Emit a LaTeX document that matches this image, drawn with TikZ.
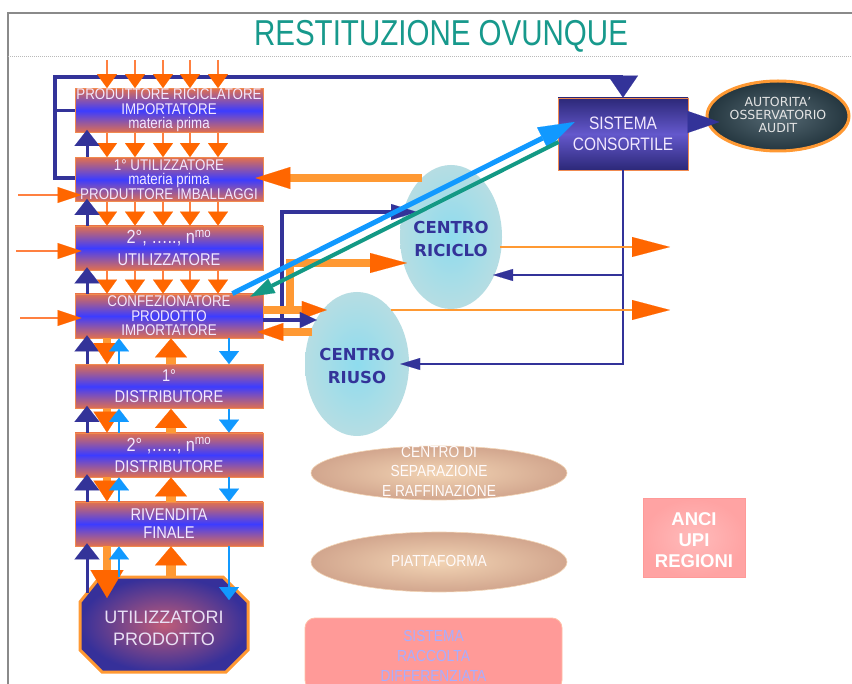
\documentclass[tikz,border=0pt]{standalone}
\usepackage{fontspec}
\setmainfont{Liberation Sans}
\newfontfamily\cnd[FakeStretch=0.86]{Liberation Sans}
\newfontfamily\ttlf[FakeStretch=0.82]{Liberation Sans}
\newfontfamily\dvs{DejaVu Sans}
\usetikzlibrary{arrows.meta,shapes.geometric,calc}

\definecolor{obox}{HTML}{E2704E}
\definecolor{oedge}{HTML}{F08A50}
\definecolor{bbox}{HTML}{3C3CFF}
\definecolor{btxt}{HTML}{F2E8FF}
\definecolor{ohead}{HTML}{FF6600}
\definecolor{oshaft}{HTML}{FF9933}
\definecolor{othin}{HTML}{FF8040}
\definecolor{navy}{HTML}{333399}
\definecolor{lblue}{HTML}{1199FF}
\definecolor{tealA}{HTML}{139985}
\definecolor{titlec}{HTML}{17998C}
\definecolor{cyanE}{HTML}{B6DDE3}
\definecolor{cyanC}{HTML}{8EDCEE}
\definecolor{peachE}{HTML}{D2A68E}
\definecolor{peachC}{HTML}{F2D4B4}
\definecolor{scD}{HTML}{2C2878}
\definecolor{scM}{HTML}{6458CC}
\definecolor{slateE}{HTML}{24363F}
\definecolor{slateC}{HTML}{566A74}
\definecolor{octC}{HTML}{C05C78}
\definecolor{octE}{HTML}{36309A}
\definecolor{pinkA}{HTML}{FFA3A3}
\definecolor{pinkC}{HTML}{FFBBBB}
\definecolor{pinkR}{HTML}{FF9A98}
\definecolor{lilac}{HTML}{A8AEFF}
\definecolor{framec}{HTML}{8A8A8A}

\begin{document}
\begin{tikzpicture}[x=1pt,y=-1pt,
  stagebox/.style={draw=oedge, line width=0.8pt, minimum width=188pt, minimum height=44pt, inner sep=0pt,
    top color=obox, bottom color=obox, middle color=bbox, text=btxt, align=center,
    font=\cnd\fontsize{15.5}{14.5}\selectfont},
  centro/.style={ellipse, inner color=cyanC, outer color=cyanE, minimum width=102pt, minimum height=144pt, inner sep=0pt},
  centrotxt/.style={text=navy, font=\dvs\bfseries\fontsize{16.5}{23}\selectfont, align=center},
  peach/.style={ellipse, draw=peachC, line width=0.6pt, inner color=peachC, outer color=peachE, minimum width=256pt, inner sep=0pt},
  peachtxt/.style={text=white!94!pink, font=\cnd\fontsize{16}{19.5}\selectfont, align=center},
  sarr/.style={draw=othin, line width=2pt, -{Triangle[width=20pt,length=14pt,color=ohead,fill=ohead,line width=0.1pt]}},
  navyup/.style={draw=navy, line width=3pt, -{Triangle[width=25pt,length=16pt,color=navy,fill=navy,line width=0.1pt]}, shorten >=-3pt},
  odown/.style={draw=oshaft, line width=8pt, -{Triangle[width=27pt,length=21pt,color=ohead,fill=ohead,line width=0.1pt]}},
  oup/.style={draw=oshaft, line width=10pt, -{Triangle[width=32pt,length=19pt,color=ohead,fill=ohead,line width=0.1pt]}},
  bthin/.style={draw=lblue, line width=2.2pt, -{Triangle[width=20pt,length=13pt,color=lblue,fill=lblue,line width=0.1pt]}},
  larr/.style={draw=othin, line width=2.5pt, -{Triangle[width=16pt,length=24pt,color=ohead,fill=ohead,line width=0.1pt]}, shorten >=-7pt},
  navyline/.style={draw=navy, line width=3.5pt},
  othick/.style={draw=oshaft, line width=7.5pt},
  ohd/.style args={#1/#2}{-{Triangle[width=#1pt,length=#2pt,color=ohead,fill=ohead,line width=0.1pt]}},
  navymed/.style={draw=navy, line width=4pt, -{Triangle[width=16pt,length=26pt,color=navy,fill=navy,line width=0.1pt]}},
  navythin/.style={draw=navy, line width=2.5pt, -{Triangle[width=12pt,length=20pt,color=navy,fill=navy,line width=0.1pt]}},
  othinlong/.style={draw=oshaft, line width=2.5pt, -{Triangle[width=20pt,length=38pt,color=ohead,fill=ohead,line width=0.1pt]}},
  lbarrow/.style={draw=lblue, line width=5pt, -{Triangle[width=24pt,length=36pt,color=lblue,fill=lblue,line width=0.1pt]}},
  tealarr/.style={draw=tealA, line width=4pt, -{Triangle[width=16pt,length=24pt,color=tealA,fill=tealA,line width=0.1pt]}}
]
\useasboundingbox (0,0) rectangle (852,684);
\fill[white] (0,0) rectangle (852,684);

% frame and title
\draw[framec, line width=1.3pt] (8,684) -- (8,13) -- (852,13);
\draw[framec!60, line width=1pt, densely dotted] (8,57) -- (852,57);
\node[text=titlec, font=\ttlf\fontsize{36}{36}\selectfont] (title) at (441,36) {RESTITUZIONE OVUNQUE};

% centres
\node[centro] (ric) at (451,237) {};
\node[centro, minimum width=104pt] (riu) at (357,364) {};
\node[centrotxt] (ricT) at (451,239) {CENTRO\\RICICLO};
\node[centrotxt] (riuT) at (357,366) {CENTRO\\RIUSO};

\node[peach, minimum height=54pt] (sep) at (439,473) {};
\node[peachtxt] (sepT) at (439,471) {CENTRO DI\\SEPARAZIONE\\E RAFFINAZIONE};
\node[peach, minimum height=60pt] (pia) at (439,562) {};
\node[peachtxt] (piaT) at (439,561) {PIATTAFORMA};
\node[draw=pinkR!70!orange!60, line width=0.8pt, rounded corners=10pt, fill=pinkR, minimum width=257pt, minimum height=72pt] (src) at (433.5,654) {};
\node[text=lilac, font=\cnd\fontsize{16}{20}\selectfont, align=center] (srcT) at (433.5,656) {SISTEMA\\RACCOLTA\\DIFFERENZIATA};

\node[draw=pinkR, line width=1pt, inner color=pinkC, outer color=pinkA, minimum width=102pt, minimum height=78pt] (anci) at (694,538) {};
\node[text=white, font=\bfseries\fontsize{18.5}{21}\selectfont, align=center] (anciT) at (694,540) {ANCI\\UPI\\REGIONI};

% chain boxes
\node[stagebox] (b1) at (169,110.5) {PRODUTTORE RICICLATORE\\IMPORTATORE\\materia prima};
\node[stagebox] (b2) at (169,179.5) {1° UTILIZZATORE\\materia prima\\PRODUTTORE IMBALLAGGI};
\node[stagebox, font=\cnd\fontsize{17}{19}\selectfont] (b3) at (169,248) {{\fontsize{19}{19}\selectfont 2°, ….., n\textsuperscript{mo}}\\[3pt]UTILIZZATORE};
\node[stagebox] (b4) at (169,316) {CONFEZIONATORE\\PRODOTTO\\IMPORTATORE};
\node[stagebox, font=\cnd\fontsize{17}{19}\selectfont] (b5) at (169,386.5) {1°\\[2pt]DISTRIBUTORE};
\node[stagebox, font=\cnd\fontsize{17}{19}\selectfont] (b6) at (169,455) {{\fontsize{19}{19}\selectfont 2° ,….., n\textsuperscript{mo}}\\[2pt]DISTRIBUTORE};
\node[stagebox, font=\cnd\fontsize{17}{18}\selectfont] (b7) at (169,524) {RIVENDITA\\FINALE};

% octagon
\draw[draw=oshaft, line width=3pt, inner color=octC, outer color=octE]
  (100,577) -- (223,577) -- (248,602) -- (248,650) -- (226,672) -- (102,672) -- (80,650) -- (80,602) -- cycle;
\node[text=btxt!92!gray, font=\fontsize{18}{22}\selectfont, align=center, minimum width=168pt, minimum height=102pt, inner sep=0pt] (oct) at (164,628) {UTILIZZATORI\\PRODOTTO};

% sistema consortile and autorita
\node[draw=oedge, line width=0.8pt, minimum width=130pt, minimum height=72pt, inner sep=0pt,
  top color=scD, bottom color=scD, middle color=scM, text=btxt, align=center,
  font=\cnd\fontsize{18}{21}\selectfont] (sc) at (623,134) {SISTEMA\\CONSORTILE};
\node[ellipse, draw=oshaft, line width=3pt, inner color=slateC, outer color=slateE, minimum width=142pt, minimum height=70pt, inner sep=0pt] (aut) at (778,116) {};
\node[text=gray!20, font=\dvs\fontsize{12.5}{13}\selectfont, align=center] (autT) at (778,115) {AUTORITA’\\OSSERVATORIO\\AUDIT};

% columns
\coordinate (cu) at (87,0);
\coordinate (cod) at (107,0);
\coordinate (cbu) at (119,0);
\coordinate (cou) at (171,0);
\coordinate (cbd) at (229,0);
\coordinate (tt) at (0,60);
\foreach \i/\x in {1/107,2/135,3/163,4/190,5/218} \coordinate (c\i) at (\x,0);

% navy loop to sistema consortile
\coordinate (lp) at (55,77);
\draw[navyline, -{Triangle[width=30pt,length=22pt,color=navy,fill=navy,line width=0.1pt]}]
  ($(b2.west)+(0,-1.5)$) -| (lp) -| (sc.north);
\draw[navyline] (b1.west) -- (b1.west -| lp);

% small orange arrows
\foreach \i in {1,...,5} {
  \draw[sarr] (tt -| c\i) -- (b1.north -| c\i);
  \draw[sarr] (b1.south -| c\i) -- (b2.north -| c\i);
  \draw[sarr] (b2.south -| c\i) -- (b3.north -| c\i);
  \draw[sarr] (b3.south -| c\i) -- (b4.north -| c\i);
}

% navy up arrows
\foreach \lo/\up in {b2/b1,b3/b2,b4/b3,b5/b4,b6/b5,b7/b6}
  \draw[navyup] (\lo.north -| cu) -- (\up.south -| cu);
\coordinate (ncu) at (87,593);
\draw[navyup] (ncu) -- (ncu |- b7.south);

% distribution arrows
\foreach \up/\lo in {b4/b5,b5/b6,b6/b7} {
  \draw[odown] (\up.south -| cod) -- (\lo.north -| cod);
  \draw[oup] (\lo.north -| cou) -- (\up.south -| cou);
  \draw[bthin] (\lo.north -| cbu) -- (\up.south -| cbu);
  \draw[bthin] (\up.south -| cbd) -- (\lo.north -| cbd);
}
\coordinate (odt) at (107,598);
\coordinate (bdt) at (229,600);
\draw[odown, -{Triangle[width=33pt,length=28pt,color=ohead,fill=ohead,line width=0.1pt]}] (b7.south -| cod) -- (odt);
\draw[oup] (oct.north -| cou) -- (b7.south -| cou);
\draw[bthin] (oct.north -| cbu) -- (b7.south -| cbu);
\draw[bthin] (b7.south -| cbd) -- (bdt);

% left inputs
\coordinate (la2) at (18,195);
\coordinate (la3) at (16,251);
\coordinate (la4) at (20,318);
\draw[larr] (la2) -- (la2 -| b2.west);
\draw[larr] (la3) -- (la3 -| b3.west);
\draw[larr] (la4) -- (la4 -| b4.west);

% sistema consortile outputs
\coordinate (rq) at ($(ric.center)+(42,38)$);
\draw[navythin] (sc.south) |- ($(riu.east)+(-9,0)$);
\draw[navythin] (rq -| sc.south) -- (rq);
\draw[draw=navy, line width=5pt, -{Triangle[width=22pt,length=32pt,color=navy,fill=navy,line width=0.1pt]}]
  ($(sc.east)+(0,-12)$) -- ($(aut.west)+(14,6)$);

% thin orange outputs
\coordinate (oe1) at (670,247);
\coordinate (oe2) at (670,310);
\draw[othinlong] ($(ric.center)+(49,10)$) -- (oe1);
\draw[othinlong] ($(riu.center)+(34,-54)$) -- (oe2);

% ricilo -> 1st user
\draw[othick, ohd=22/35] ($(ric.center)+(-29,-59)$) -- ($(b2.east)+(-8,-1.5)$);

% confezionatore <-> centres
\coordinate (nb) at (282,320);
\coordinate (og) at (290,310);
\draw[navymed] ($(b4.east)+(0,4)$) -- (nb) |- ($(ric.center)+(-34,-25)$);
\draw[othick, ohd=20/37] ($(b4.east)+(0,-6)$) -- (og) |- ($(ric.center)+(-44,26)$);
\draw[othick, ohd=18/25] ($(b4.east)+(0,-6)$) -- ($(riu.west)+(22,-54)$);
\draw[navymed, -{Triangle[width=16pt,length=17pt,color=navy,fill=navy,line width=0.1pt]}] ($(b4.east)+(0,4)$) -- ($(riu.west)+(12,-44)$);
\draw[othick, ohd=18/26] ($(riu.center)+(-45,-32)$) -- ($(b4.east)+(-6,16)$);

% blue and teal links with sistema consortile
\draw[lbarrow] ($(b4.north east)+(-31,0)$) -- ($(sc.west)+(17,-12)$);
\draw[tealarr] ($(sc.west)+(1,8)$) -- ($(b4.north east)+(-13,3)$);
\end{tikzpicture}
\end{document}
